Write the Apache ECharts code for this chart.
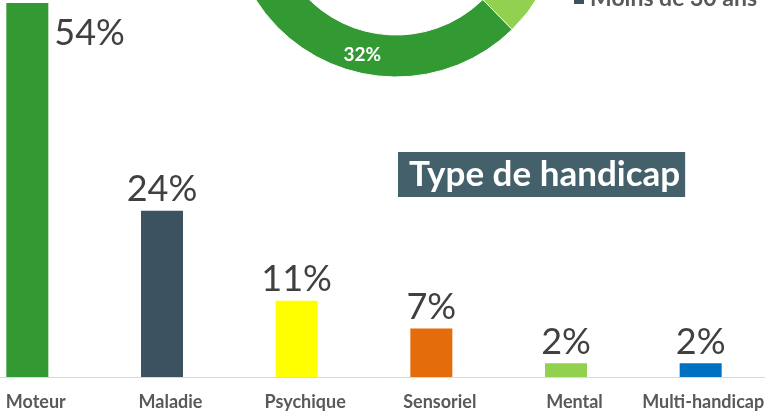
<!DOCTYPE html>
<html>
<head>
<meta charset="utf-8">
<script src="https://cdn.jsdelivr.net/npm/echarts@6/dist/echarts.min.js"></script>
<style>
  html, body { margin: 0; padding: 0; background: #fff; }
  #chart { width: 765px; height: 414px; }
</style>
</head>
<body>
<div id="chart"></div>
<script>
var myChart = echarts.init(document.getElementById('chart'));

// Type de handicap (%)
var categories = ['Moteur', 'Maladie', 'Psychique', 'Sensoriel', 'Mental', 'Multi-handicap'];
var values = [54, 24, 11, 7, 2, 2];
var barColors = ['#339933', '#3C5260', '#FFFF00', '#E46C0A', '#92D050', '#0070C0'];

// Tranches d'âge (anneau, coupé en haut)
var ageNames = ['Moins de 30 ans', '30 à 39 ans', '40 à 49 ans', '50 ans et plus'];
var ageValues = [12, 22, 34, 32];
var ageColors = ['#3C5260', '#E46C0A', '#92D050', '#339933'];
var legendOrder = ['50 ans et plus', '40 à 49 ans', '30 à 39 ans', 'Moins de 30 ans'];

var barData = values.map(function (v, i) {
    var item = { value: v, itemStyle: { color: barColors[i] } };
    if (i === 0) {
        // la barre touche le haut : étiquette à droite
        item.label = { position: [48, 12] };
    }
    return item;
});

var pieData = ageValues.map(function (v, i) {
    return {
        name: ageNames[i],
        value: v,
        itemStyle: { color: ageColors[i] }
    };
});

var option = {
    animation: false,
    title: {
        text: 'Type de handicap',
        left: 398,
        top: 152,
        padding: [5, 5, 5, 11],
        backgroundColor: '#44606B',
        textStyle: {
            color: '#fff',
            fontFamily: 'Lato',
            fontWeight: 'bold',
            fontSize: 35
        }
    },
    legend: {
        orient: 'vertical',
        left: 572,
        top: -117,
        padding: 0,
        itemWidth: 12,
        itemHeight: 12,
        itemGap: 6,
        icon: 'rect',
        data: legendOrder,
        textStyle: {
            color: '#595959',
            fontFamily: 'Lato',
            fontWeight: 'bold',
            fontSize: 23,
            lineHeight: 28
        }
    },
    grid: {
        left: -40,
        right: -3,
        top: 3,
        bottom: 37,
        outerBoundsMode: 'none'
    },
    xAxis: {
        type: 'category',
        data: categories,
        axisTick: { show: false },
        axisLine: { lineStyle: { color: '#D9D9D9', width: 1 } },
        axisLabel: {
            margin: 16,
            interval: 0,
            hideOverlap: false,
            formatter: function (val, idx) {
                return idx === categories.length - 1 ? '{b|' + val + '}' : '{a|' + val + '}';
            },
            rich: {
                a: { padding: [0, 0, 0, 17], color: '#595959', fontFamily: 'Lato', fontWeight: 'bold', fontSize: 18 },
                b: { padding: [0, 0, 0, 5], color: '#595959', fontFamily: 'Lato', fontWeight: 'bold', fontSize: 18 }
            }
        }
    },
    yAxis: {
        type: 'value',
        min: 0,
        max: 54,
        show: false,
        splitLine: { show: false }
    },
    series: [{
        name: 'Type de handicap',
        type: 'bar',
        data: barData,
        barWidth: 42,
        label: {
            show: true,
            position: 'top',
            distance: 3,
            formatter: '{c}%',
            color: '#404040',
            fontFamily: 'Lato',
            fontWeight: 'normal',
            fontSize: 36
        }
    }, {
        name: 'Âge',
        type: 'pie',
        center: [396, -89],
        radius: [124, 166],
        startAngle: 199.2,
        clockwise: true,
        avoidLabelOverlap: false,
        data: pieData,
        itemStyle: { borderColor: '#fff', borderWidth: 1 },
        label: {
            show: true,
            position: 'inside',
            formatter: '{c}%',
            color: '#fff',
            fontFamily: 'Lato',
            fontWeight: 'bold',
            fontSize: 19
        },
        labelLine: { show: false }
    }]
};
myChart.setOption(option);
</script>
</body>
</html>
